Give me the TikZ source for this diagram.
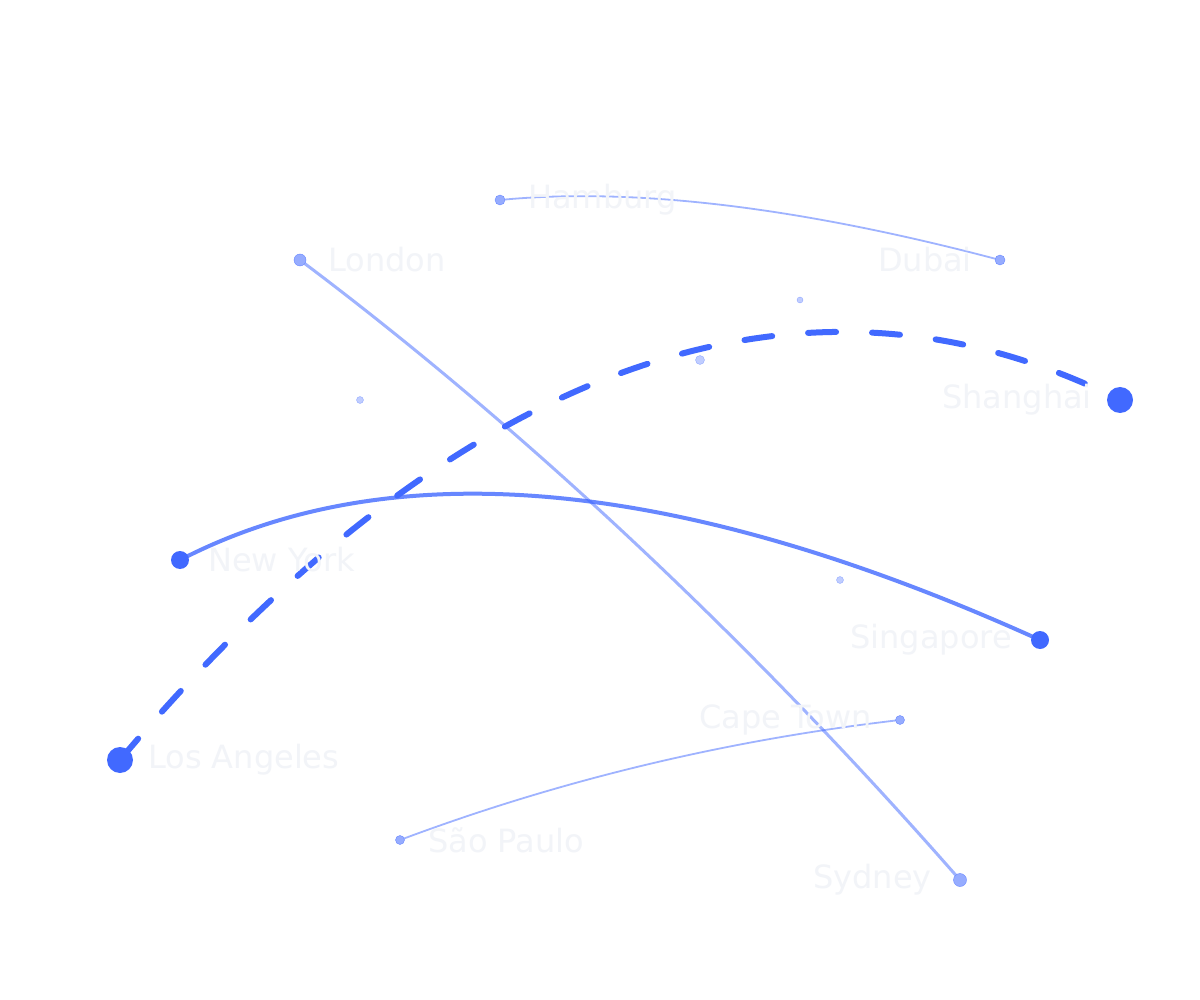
\documentclass[tikz,border=0pt]{standalone}
\usepackage{fontspec}
\setmainfont{DejaVu Sans}
\usetikzlibrary{positioning}
\definecolor{routeblue}{HTML}{4169FF}
\definecolor{labelgrey}{HTML}{F2F4F8}
\tikzset{city/.style={circle, fill=routeblue, inner sep=0pt},
    hub/.style={circle, fill=routeblue!55, draw=routeblue!80, inner sep=0pt},
    cityname/.style={text=labelgrey, font=\fontsize{32}{33}\selectfont, inner sep=0pt},
    route/.style={routeblue, line cap=round}
}

\begin{document}
\begin{tikzpicture}[x=1pt, y=-1pt]
            \useasboundingbox[fill=white] (0,0) rectangle (1200,1000);
            \coordinate (la) at (120,760);
            \coordinate (sh) at (1120,400);
            \coordinate (ny) at (180,560);
            \coordinate (sg) at (1040,640);
            \coordinate (ld) at (300,260);
            \coordinate (sy) at (960,880);
            \coordinate (hb) at (500,200);
            \coordinate (db) at (1000,260);
            \coordinate (sp) at (400,840);
            \coordinate (ct) at (900,720);
            
            \draw[route, opacity=0.5, line width=1.8] (hb) .. controls (633,187) and (800,207) .. (db);
            \draw[route, opacity=0.5, line width=1.8] (sp) .. controls (560,780) and (727,740) .. (ct);
            \draw[route, opacity=0.5, line width=3] (ld) .. controls (520,425) and (750,640) .. (sy);
            \draw[route, opacity=0.8, line width=4] (ny) .. controls (393,450) and (680,477) .. (sg);
            \draw[route, line width=6, dash pattern=on 28 off 36] (la) .. controls (330,510) and (700,190) .. (sh);
            
            \node[city, minimum size=26] (lanode) at (la) {};
            \node[city, minimum size=26] (shnode) at (sh) {};
            \node[city, minimum size=18] (nynode) at (ny) {};
            \node[city, minimum size=18] (sgnode) at (sg) {};
            \node[hub, minimum size=12] (ldnode) at (ld) {};
            \node[hub, minimum size=13] (synode) at (sy) {};
            \node[hub, minimum size=10] (hbnode) at (hb) {};
            \node[hub, minimum size=10] (dbnode) at (db) {};
            \node[hub, minimum size=9] (spnode) at (sp) {};
            \node[hub, minimum size=9] (ctnode) at (ct) {};
            
            \node[hub, opacity=0.6, minimum size=7] (dot1) at (360,400) {};
            \node[hub, opacity=0.6, minimum size=9] (dot2) at (700,360) {};
            \node[hub, opacity=0.6, minimum size=6] (dot3) at (800,300) {};
            \node[hub, opacity=0.6, minimum size=7] (dot4) at (840,580) {};
            
            \node[cityname, right=28 of la] {Los Angeles};
            \node[cityname, left=28 of sh] {Shanghai};
            \node[cityname, right=28 of ny] {New York};
            \node[cityname, left=28 of sg] {Singapore};
            \node[cityname, right=28 of ld] {London};
            \node[cityname, left=28 of sy] {Sydney};
            \node[cityname, right=28 of hb] {Hamburg};
            \node[cityname, left=28 of db] {Dubai};
            \node[cityname, right=28 of sp] {São Paulo};
            \node[cityname, left=28 of ct] {Cape Town};
        \end{tikzpicture}
\end{document}
